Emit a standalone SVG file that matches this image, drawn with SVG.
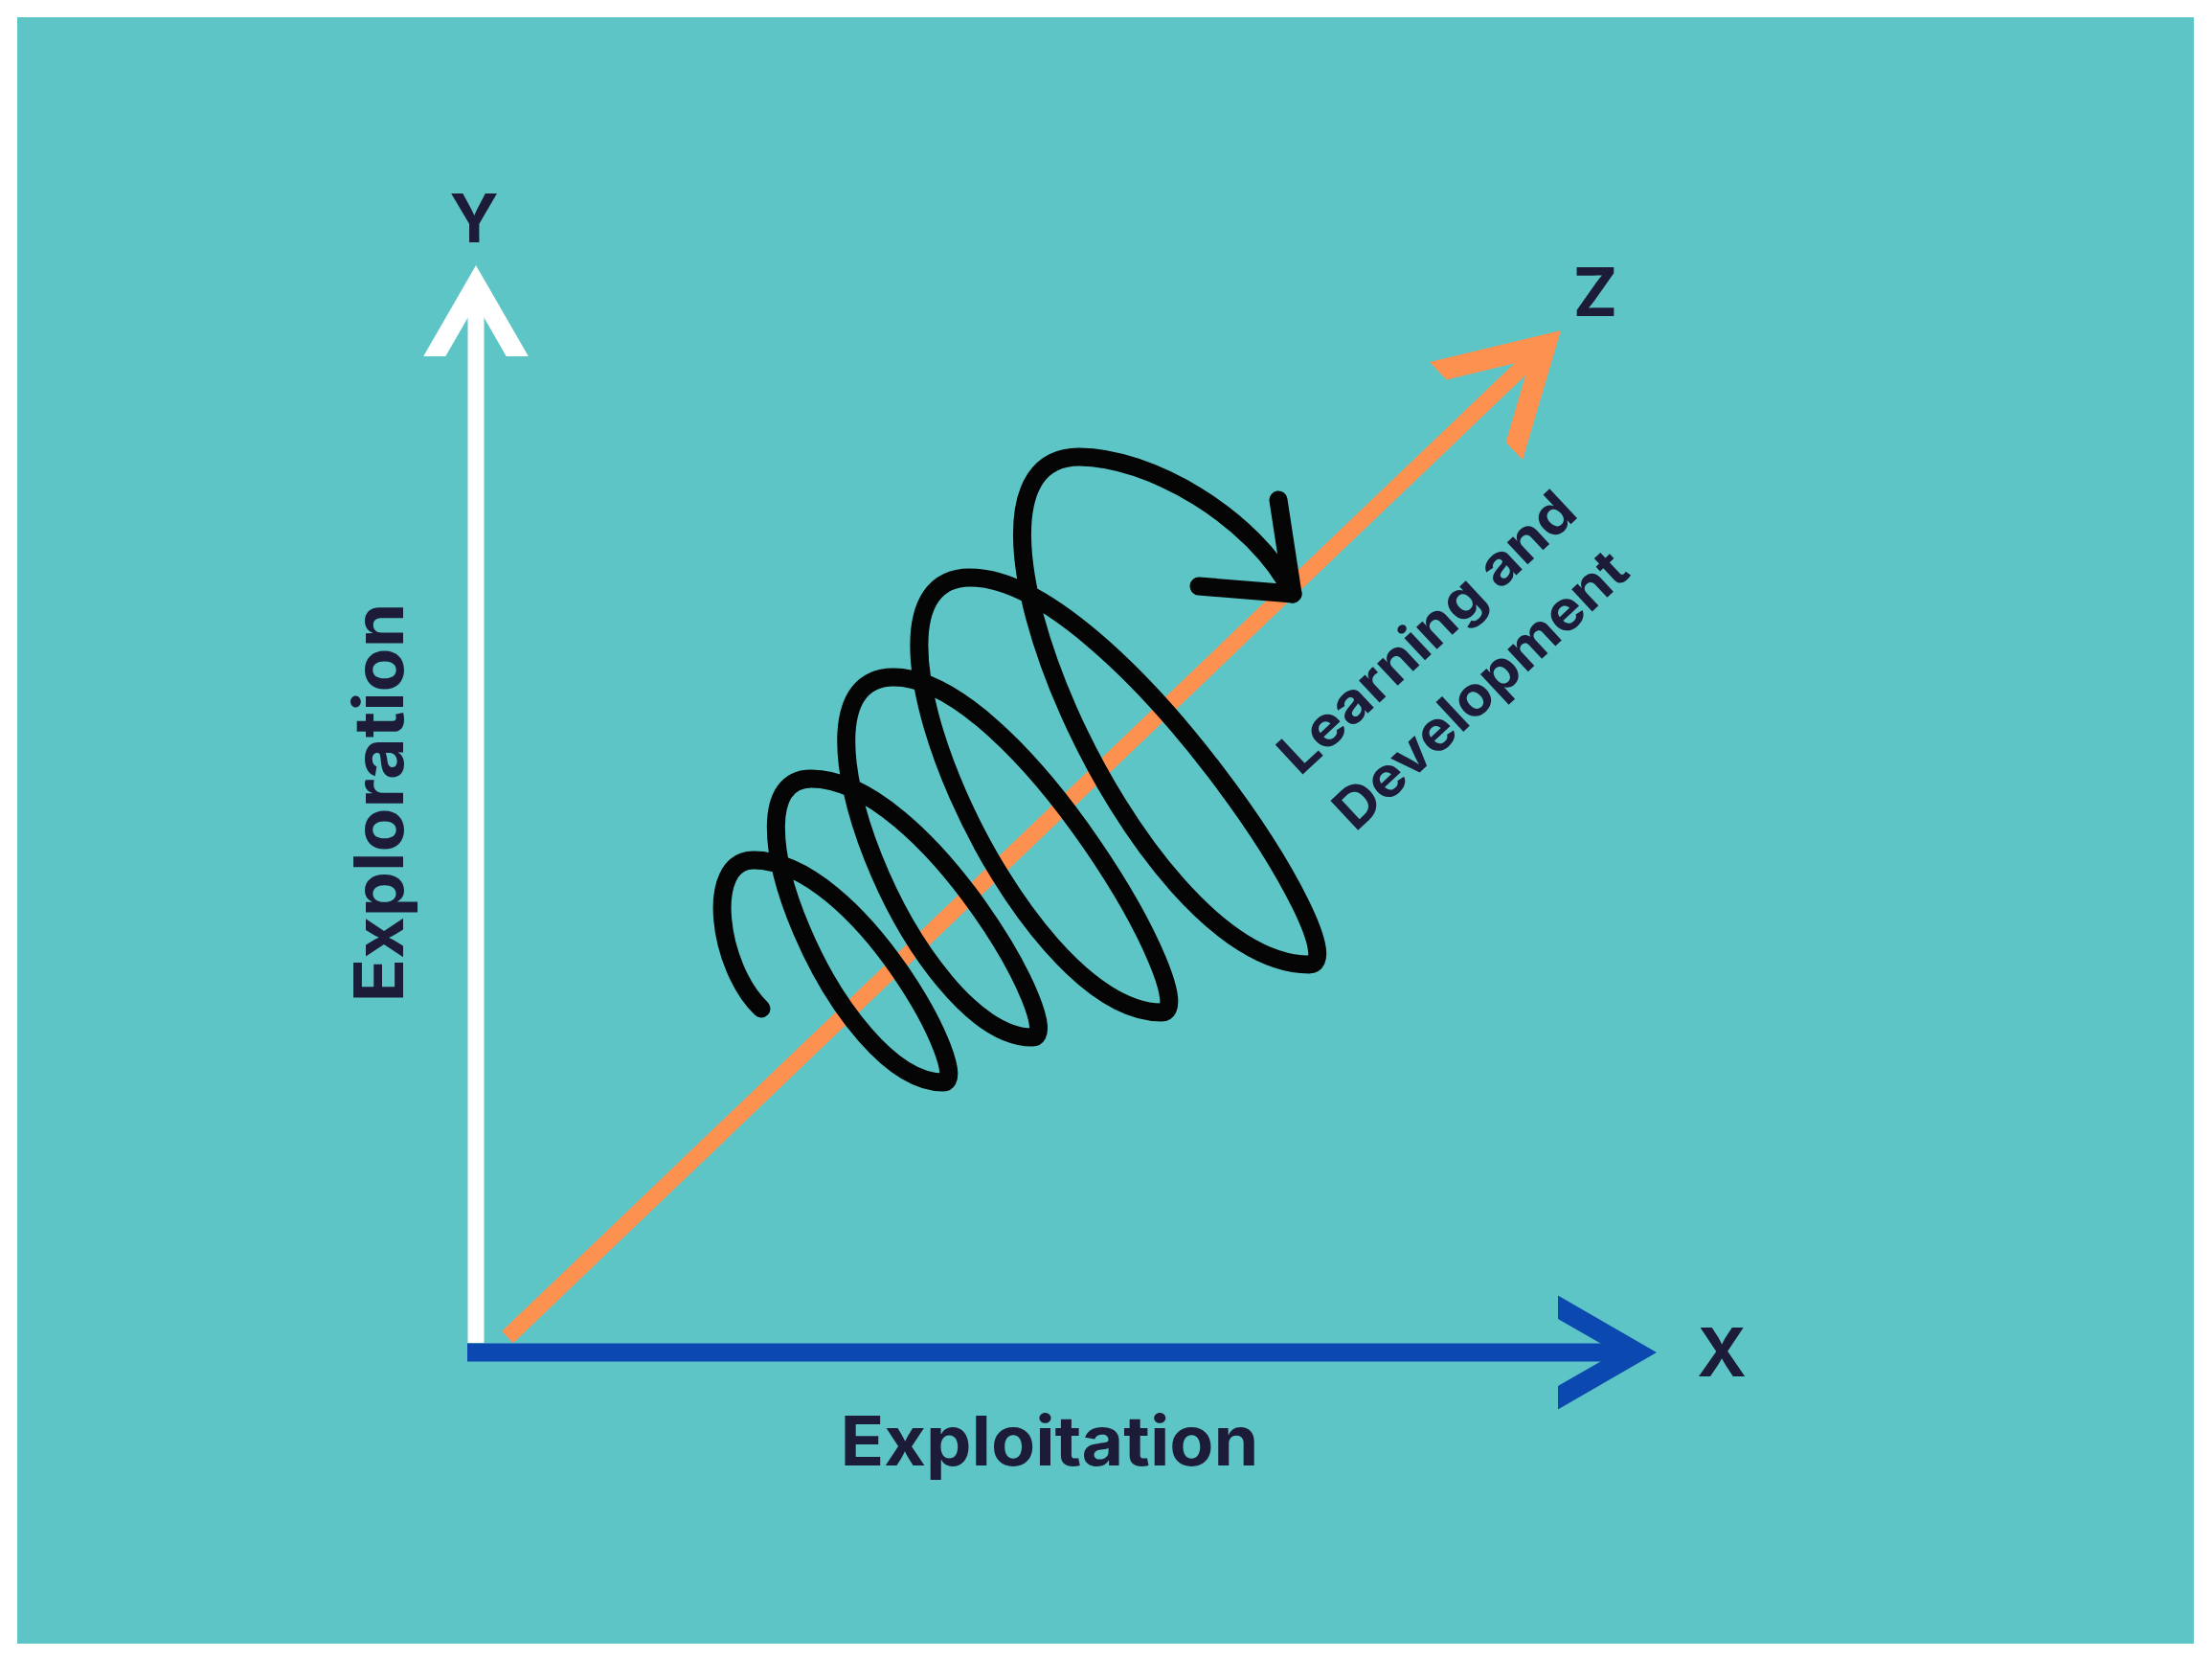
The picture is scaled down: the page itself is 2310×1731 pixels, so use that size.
<svg xmlns="http://www.w3.org/2000/svg" width="2310" height="1731" viewBox="0 0 2310 1731">
  <style>
    .lbl { font-family: Inter, "Noto Sans", "Liberation Sans", sans-serif; font-weight: 700; fill: #1c1c38; }
    .axis { fill: none; stroke-linecap: butt; }
  </style>
  <rect x="0" y="0" width="2310" height="1731" fill="#ffffff"/>
  <rect x="18" y="18" width="2273" height="1698" fill="#5ec5c6"/>

  <g id="connectors">
    <g id="z-axis">
      <line class="axis" x1="530" y1="1396" x2="1612" y2="362" stroke="#fd9150" stroke-width="17"/>
      <polygon transform="translate(1630,345) rotate(-43.54)" fill="#fd9150" points="0,0 -122,-70.4 -122,-45 -44,0 -122,45 -122,70.4"/>
    </g>
    <g id="y-axis">
      <line class="axis" x1="497" y1="1402" x2="497" y2="300" stroke="#ffffff" stroke-width="17"/>
      <polygon transform="translate(497,277) rotate(-90)" fill="#ffffff" points="0,0 -95,-54.8 -95,-31.7 -40,0 -95,31.7 -95,54.8"/>
    </g>
    <g id="x-axis">
      <line class="axis" x1="488" y1="1412" x2="1700" y2="1412" stroke="#0b48b0" stroke-width="19"/>
      <polygon transform="translate(1730,1412)" fill="#0b48b0" points="0,0 -103,-59.5 -103,-35 -42,0 -103,35 -103,59.5"/>
    </g>
  </g>

  <g id="spiral" fill="none" stroke="#050505" stroke-width="19" stroke-linecap="round" stroke-linejoin="round">
    <path d="M 795 1053 C 750 1010, 735 898, 787 898 C 897 898, 1019 1130, 985 1130 C 877 1130, 745 813, 847 813 C 967 813, 1118 1083, 1078 1083 C 958 1083, 803 707, 933 707 C 1063 707, 1263 1057, 1213 1057 C 1063 1057, 863 603, 1013 603 C 1163 603, 1427 1007, 1367 1007 C 1187 1007, 957 477, 1127 477 C 1200 477, 1310 540, 1350 620"/>
    <path d="M 1335 522 L 1350 620 L 1252 612"/>
  </g>

  <g id="label-y"><text class="lbl" x="495" y="253" font-size="70" text-anchor="middle">Y</text></g>
  <g id="label-z"><text class="lbl" x="1666" y="330" font-size="70" text-anchor="middle">Z</text></g>
  <g id="label-x"><text class="lbl" x="1798" y="1437" font-size="70" text-anchor="middle">X</text></g>
  <g id="label-exploration"><text class="lbl" transform="translate(421,838) rotate(-90)" x="0" y="0" font-size="72" text-anchor="middle" textLength="417" lengthAdjust="spacingAndGlyphs">Exploration</text></g>
  <g id="label-exploitation"><text class="lbl" x="1096" y="1530" font-size="72" text-anchor="middle" textLength="437" lengthAdjust="spacingAndGlyphs">Exploitation</text></g>
  <g id="label-ld" transform="translate(1531,704) rotate(-43)">
    <text class="lbl" x="0" y="-40" font-size="58" text-anchor="middle" textLength="400" lengthAdjust="spacingAndGlyphs">Learning and</text>
    <text class="lbl" x="0" y="42" font-size="58" text-anchor="middle" textLength="395" lengthAdjust="spacingAndGlyphs">Development</text>
  </g>
</svg>
